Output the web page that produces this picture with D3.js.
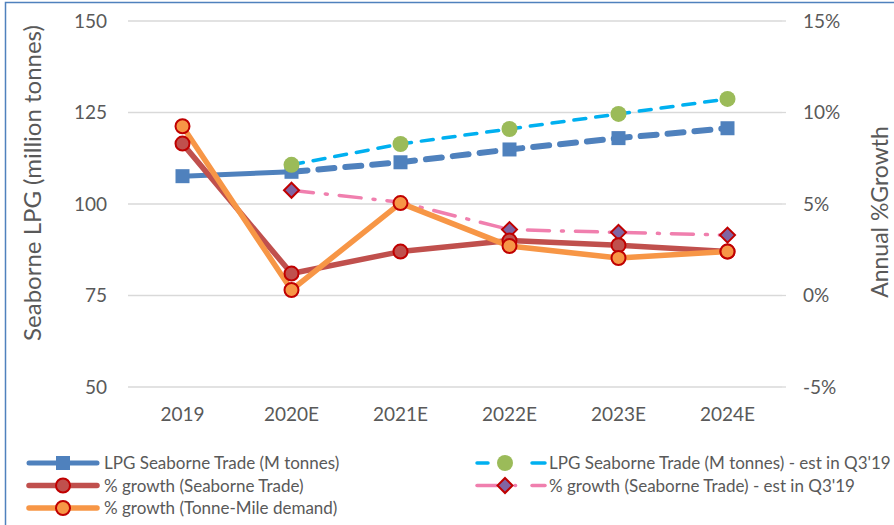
<!DOCTYPE html>
<html><head><meta charset="utf-8">
<script src="https://cdn.jsdelivr.net/npm/d3@7"></script>
<style>body{margin:0;background:#fff}svg{display:block}text{font-family:Lato,"Open Sans",sans-serif;fill:#595959}</style>
</head><body><svg id="c" width="894" height="525"></svg>
<script>
const categories = ["2019","2020E","2021E","2022E","2023E","2024E"];
const lpgTrade = [107.6,108.8,111.4,114.9,118.0,120.7];
const lpgTradeEst = [null,110.7,116.4,120.5,124.6,128.7];
const growthTrade = [8.3,1.2,2.4,3.0,2.75,2.4];
const growthTonneMile = [9.25,0.3,5.05,2.7,2.05,2.4];
const growthTradeEst = [null,5.75,5.1,3.6,3.45,3.3];
const leftTicks = [50,75,100,125,150];
const rightTicks = [-5,0,5,10,15];
const legendLabels = ["LPG Seaborne Trade (M tonnes)","% growth (Seaborne Trade)","% growth (Tonne-Mile demand)","LPG Seaborne Trade (M tonnes) - est in Q3'19","% growth (Seaborne Trade) - est in Q3'19"];

const svg = d3.select("#c");
const L=128,R=782,T=21,B=387;
const x = d3.scalePoint().domain(categories).range([L,R]).padding(0.5);
const yL = d3.scaleLinear().domain([50,150]).range([B,T]);
const yR = d3.scaleLinear().domain([-5,15]).range([B,T]);

svg.append("path").attr("d","M5.5,525 V2.5 H894").attr("fill","none").attr("stroke","#4f81bd").attr("stroke-width",1.5);

svg.append("g").selectAll("line").data(leftTicks).join("line")
  .attr("x1",L).attr("x2",R).attr("y1",d=>yL(d)).attr("y2",d=>yL(d))
  .attr("stroke","#d9d9d9").attr("stroke-width",1.3);
svg.append("g").selectAll("line").data(rightTicks).join("line")
  .attr("x1",R).attr("x2",R+4).attr("y1",d=>yR(d)).attr("y2",d=>yR(d))
  .attr("stroke","#d9d9d9").attr("stroke-width",1.3);

const fs=19;
svg.append("g").selectAll("text").data(leftTicks).join("text")
  .attr("x",107).attr("y",d=>yL(d)).attr("dy","0.36em").attr("text-anchor","end")
  .style("font-size",fs+"px").text(d=>d);
svg.append("g").selectAll("text").data(rightTicks).join("text")
  .attr("x",803).attr("y",d=>yR(d)).attr("dy","0.36em").attr("text-anchor","start")
  .style("font-size",fs+"px").text(d=>d+"%");
svg.append("g").selectAll("text").data(categories).join("text")
  .attr("x",d=>x(d)).attr("y",414).attr("dy","0.36em").attr("text-anchor","middle")
  .style("font-size",fs+"px").text(d=>d);
svg.append("text").attr("transform","translate(32,183) rotate(-90)").attr("dy","0.36em")
  .attr("text-anchor","middle").style("font-size","24px").text("Seaborne LPG (million tonnes)");
svg.append("text").attr("transform","translate(880,212) rotate(-90)").attr("dy","0.36em")
  .attr("text-anchor","middle").style("font-size","23px").text("Annual %Growth");

const pts = (arr,ys)=>arr.map((v,i)=>({c:categories[i],v})).filter(d=>d.v!=null).map(d=>[x(d.c),ys(d.v)]);
const line = d3.line();

function drawLine(p,color,w,dash,cap){
  svg.append("path").attr("d",line(p)).attr("fill","none").attr("stroke",color)
    .attr("stroke-width",w).attr("stroke-dasharray",dash||null)
    .attr("stroke-linecap",cap||"butt").attr("stroke-linejoin","round");
}
function square(g,cx,cy,s,fill){g.append("rect").attr("x",cx-s/2).attr("y",cy-s/2).attr("width",s).attr("height",s).attr("fill",fill);}
function circle(g,cx,cy,r,fill,stroke,sw){g.append("circle").attr("cx",cx).attr("cy",cy).attr("r",r).attr("fill",fill).attr("stroke",stroke||"none").attr("stroke-width",sw||0);}
function diamond(g,cx,cy,r,fill,stroke){g.append("path").attr("d",`M${cx},${cy-r}L${cx+r},${cy}L${cx},${cy+r}L${cx-r},${cy}Z`).attr("fill",fill).attr("stroke",stroke).attr("stroke-width",2);}

const pB = pts(lpgTrade,yL);
drawLine(pB.slice(0,2),"#4f81bd",5);
drawLine(pB.slice(1),"#4f81bd",6,"16,11","round");
const pG = pts(lpgTradeEst,yL);
drawLine(pG,"#00b0f0",3.5,"12,10","round");
const pP = pts(growthTradeEst,yR);
drawLine(pP,"#f07fae",3.5,"22,12,2,12","round");
const pR = pts(growthTrade,yR);
drawLine(pR,"#c0504d",5.5);
const pO = pts(growthTonneMile,yR);
drawLine(pO,"#f79646",5.5);

const mk = svg.append("g");
pB.forEach(p=>square(mk,p[0],p[1],14,"#4f81bd"));
pG.forEach(p=>circle(mk,p[0],p[1],8,"#9bbb59"));
pP.forEach((p,i)=>{ if(i!==1) diamond(mk,p[0],p[1],7.5,"#8064a2","#c00000"); });
pR.forEach(p=>circle(mk,p[0],p[1],7,"#c0504d","#c00000",2));
pO.forEach(p=>circle(mk,p[0],p[1],7,"#f79646","#c00000",2));

const lg = svg.append("g");
const rows=[463,485.5,508];
const lfs=17;
function lgLine(x1,x2,y,color,w,dash){lg.append("line").attr("x1",x1).attr("x2",x2).attr("y1",y).attr("y2",y).attr("stroke",color).attr("stroke-width",w).attr("stroke-dasharray",dash||null).attr("stroke-linecap","round");}
lgLine(29,97,rows[0],"#4f81bd",5); square(lg,63,rows[0],14,"#4f81bd");
lgLine(29,97,rows[1],"#c0504d",5.5); circle(lg,63,rows[1],7,"#c0504d","#c00000",2);
lgLine(29,97,rows[2],"#f79646",5.5); circle(lg,63,rows[2],7,"#f79646","#c00000",2);
lgLine(477,488,rows[0],"#00b0f0",3.5); lgLine(532,545,rows[0],"#00b0f0",3.5); circle(lg,505,rows[0],8,"#9bbb59");
lgLine(477,497,rows[1],"#f07fae",3.5); lgLine(515,515.5,rows[1],"#f07fae",3.5); lgLine(532,545,rows[1],"#f07fae",3.5);
diamond(lg,505,rows[1],7.5,"#8064a2","#c00000");
const lpos=[[104,rows[0]],[104,rows[1]],[104,rows[2]],[549,rows[0]],[549,rows[1]]];
lg.selectAll("text").data(legendLabels).join("text")
  .attr("x",(d,i)=>lpos[i][0]).attr("y",(d,i)=>lpos[i][1]).attr("dy","0.36em")
  .style("font-size",lfs+"px").text(d=>d);
</script></body></html>
